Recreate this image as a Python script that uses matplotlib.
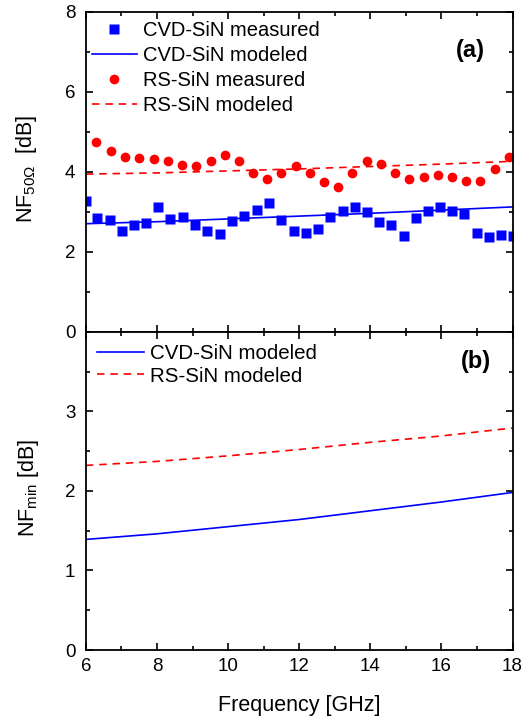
import matplotlib
matplotlib.use("Agg")
import matplotlib.pyplot as plt
from matplotlib.ticker import MultipleLocator

plt.rcParams['font.family'] = ['Liberation Sans', 'DejaVu Sans']
plt.rcParams['mathtext.fontset'] = 'custom'
plt.rcParams['mathtext.rm'] = 'Liberation Sans'
plt.rcParams['mathtext.it'] = 'Liberation Sans:italic'

# measured points, panel (a)
f_cvd = [6.0, 6.31, 6.68, 7.02, 7.36, 7.69, 8.03, 8.37, 8.74, 9.08, 9.42,
         9.78, 10.12, 10.46, 10.8, 11.14, 11.48, 11.85, 12.19, 12.52, 12.86,
         13.23, 13.57, 13.9, 14.24, 14.58, 14.95, 15.29, 15.63, 15.96, 16.3,
         16.64, 17.01, 17.35, 17.68, 18.0]
nf_cvd = [3.26, 2.84, 2.79, 2.52, 2.66, 2.71, 3.13, 2.83, 2.86, 2.68, 2.52,
          2.45, 2.76, 2.90, 3.04, 3.23, 2.79, 2.53, 2.48, 2.57, 2.87, 3.02,
          3.13, 2.99, 2.75, 2.68, 2.39, 2.85, 3.03, 3.11, 3.02, 2.95, 2.47,
          2.36, 2.43, 2.39]
f_rs = [6.28, 6.7, 7.1, 7.49, 7.91, 8.31, 8.7, 9.09, 9.52, 9.91, 10.31, 10.7,
        11.09, 11.49, 11.91, 12.3, 12.7, 13.09, 13.48, 13.91, 14.3, 14.7,
        15.09, 15.51, 15.91, 16.3, 16.69, 17.09, 17.51, 17.9]
nf_rs = [4.75, 4.53, 4.38, 4.34, 4.32, 4.26, 4.18, 4.14, 4.28, 4.43, 4.26,
         3.98, 3.82, 3.98, 4.14, 3.98, 3.74, 3.63, 3.96, 4.28, 4.20, 3.97,
         3.82, 3.88, 3.93, 3.86, 3.76, 3.77, 4.07, 4.38]

# modeled curves
f_mod = [6, 8, 10, 12, 14, 16, 18]
nf50_cvd_mod = [2.70, 2.75, 2.82, 2.89, 2.96, 3.04, 3.12]
nf50_rs_mod = [3.94, 3.97, 4.02, 4.07, 4.13, 4.19, 4.26]
nfmin_cvd = [1.39, 1.46, 1.55, 1.64, 1.75, 1.86, 1.98]
nfmin_rs = [2.32, 2.37, 2.44, 2.52, 2.61, 2.69, 2.79]

fig = plt.figure(figsize=(5.30, 7.18), dpi=100)
ax1 = fig.add_axes([0.162, 0.538, 0.805, 0.4457])
ax2 = fig.add_axes([0.162, 0.0947, 0.805, 0.4433], sharex=ax1)

blue = '#0000ff'
red = '#ff0000'

ax1.plot(f_cvd, nf_cvd, 's', color=blue, ms=6.5, mec='none', label='CVD-SiN measured')
ax1.plot(f_mod, nf50_cvd_mod, '-', color=blue, lw=1.2, label='CVD-SiN modeled')
ax1.plot(f_rs, nf_rs, 'o', color=red, ms=7, mec='none', label='RS-SiN measured')
ax1.plot(f_mod, nf50_rs_mod, '--', color=red, lw=1.2, dashes=(4.5, 3.5), label='RS-SiN modeled')

ax2.plot(f_mod, nfmin_cvd, '-', color=blue, lw=1.2, label='CVD-SiN modeled')
ax2.plot(f_mod, nfmin_rs, '--', color=red, lw=1.2, dashes=(4.5, 3.5), label='RS-SiN modeled')

ax1.set_xlim(6, 18)
ax1.set_ylim(0, 8)
ax1.set_yticks([0, 2, 4, 6, 8])
ax1.yaxis.set_minor_locator(MultipleLocator(1))
ax2.set_ylim(0, 4)
ax2.set_yticks([0, 1, 2, 3])
ax2.yaxis.set_minor_locator(MultipleLocator(0.5))
ax2.set_xticks([6, 8, 10, 12, 14, 16, 18])
ax2.xaxis.set_minor_locator(MultipleLocator(1))

for ax in (ax1, ax2):
    for s in ax.spines.values():
        s.set_linewidth(1.3)
    ax.tick_params(which='both', direction='in', top=True, right=True,
                   labelsize=13.5, width=1.2)
    ax.tick_params(which='major', length=5)
    ax.tick_params(which='minor', length=3)
    ax.tick_params(axis='y', pad=7.5)
    ax.tick_params(axis='x', pad=6)
ax1.tick_params(labelbottom=False)

ax1.set_ylabel(r'NF$_{\mathrm{50\Omega}}$  [dB]', fontsize=15.5)
ax2.set_ylabel(r'NF$_{\mathrm{min}}$ [dB]', fontsize=15.5)
ax2.set_xlabel('Frequency [GHz]', fontsize=15.5)
ax1.yaxis.set_label_coords(-0.11, 0.51)
ax2.yaxis.set_label_coords(-0.105, 0.51)
ax2.xaxis.set_label_coords(0.5, -0.14)

ax1.text(0.935, 0.88, '(a)', transform=ax1.transAxes, fontsize=17,
         fontweight='bold', ha='right', va='center')
ax2.text(0.95, 0.905, '(b)', transform=ax2.transAxes, fontsize=17,
         fontweight='bold', ha='right', va='center')

ax1.legend(loc='upper left', bbox_to_anchor=(0.014, 0.972), frameon=False,
           fontsize=14.5, handlelength=2.25, handletextpad=0.3, labelspacing=0.3,
           borderpad=0, borderaxespad=0)
ax2.legend(loc='upper left', bbox_to_anchor=(0.026, 0.962), frameon=False,
           fontsize=14.8, handlelength=2.3, handletextpad=0.3, labelspacing=0.18,
           borderpad=0, borderaxespad=0)

fig.savefig('out.png', dpi=100)
